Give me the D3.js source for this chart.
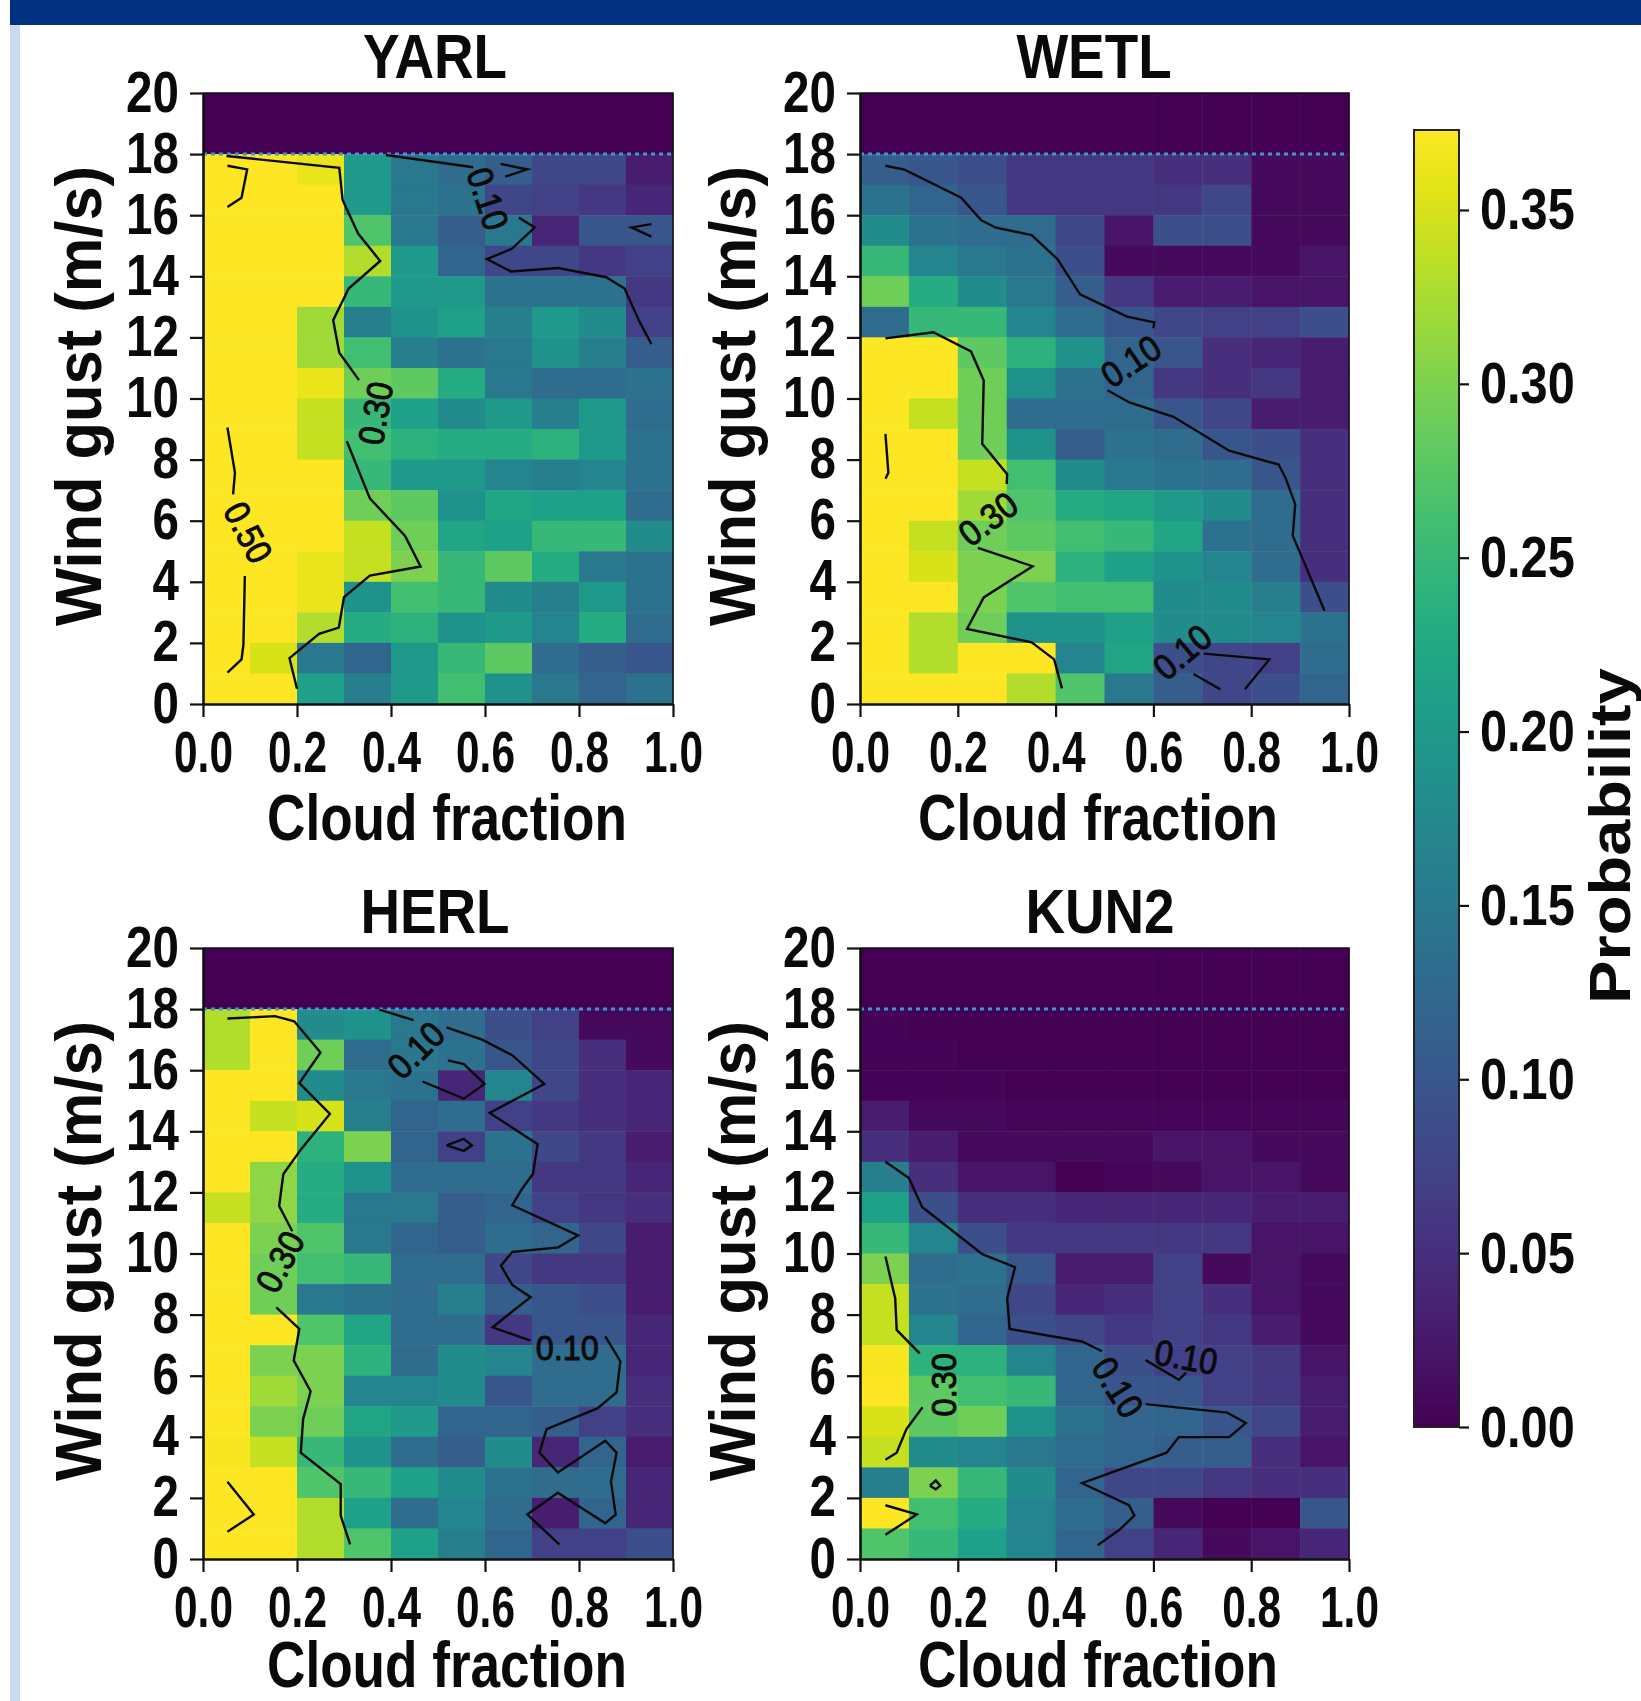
<!DOCTYPE html>
<html>
<head>
<meta charset="utf-8">
<script src="https://cdn.jsdelivr.net/npm/d3@7"></script>
<style>
  html, body { margin: 0; padding: 0; background: #fff; }
  svg { display: block; }
  text { font-family: "Liberation Sans", sans-serif; fill: #0a0a0a; }
</style>
</head>
<body>
<div id="chart"></div>
<script>
// Cell values, top row (19-20 m/s) first, cloud fraction bins left to right
const yarlGrid = [
  [0,0,0,0,0,0,0,0,0,0],
  [0,0,0,0,0,0,0,0,0,0],
  [.40,.40,.36,.20,.15,.13,.11,.08,.08,.03],
  [.40,.40,.40,.20,.15,.14,.08,.07,.06,.04],
  [.40,.40,.40,.27,.15,.11,.15,.04,.10,.10],
  [.40,.40,.40,.33,.20,.12,.08,.08,.06,.07],
  [.40,.40,.40,.25,.20,.20,.14,.14,.14,.06],
  [.40,.40,.32,.16,.19,.21,.16,.20,.18,.07],
  [.40,.40,.32,.26,.16,.14,.15,.19,.16,.11],
  [.40,.40,.36,.29,.28,.23,.15,.13,.13,.14],
  [.40,.40,.34,.25,.21,.18,.20,.16,.20,.13],
  [.40,.40,.34,.26,.24,.23,.23,.24,.20,.14],
  [.40,.40,.38,.25,.20,.20,.17,.16,.17,.14],
  [.40,.40,.38,.29,.28,.19,.22,.21,.21,.13],
  [.40,.40,.38,.34,.29,.22,.21,.25,.25,.18],
  [.40,.40,.36,.34,.30,.25,.28,.23,.15,.14],
  [.40,.40,.36,.19,.26,.25,.18,.16,.20,.14],
  [.40,.40,.33,.23,.24,.19,.20,.17,.23,.13],
  [.38,.35,.15,.12,.20,.25,.28,.13,.11,.10],
  [.38,.38,.21,.16,.20,.26,.19,.15,.12,.14]
];
const wetlGrid = [
  [0,0,0,0,0,0,0,0,0,0],
  [0,0,0,0,0,0,0,0,0,0],
  [.11,.10,.09,.06,.06,.06,.05,.05,.01,.01],
  [.14,.12,.10,.06,.06,.06,.06,.08,.01,.01],
  [.18,.14,.13,.13,.08,.02,.09,.09,.01,.01],
  [.25,.17,.15,.14,.09,.01,.01,.01,.01,.02],
  [.29,.23,.18,.15,.11,.06,.03,.03,.02,.02],
  [.13,.25,.25,.17,.13,.10,.08,.07,.07,.09],
  [.38,.38,.28,.24,.19,.12,.10,.05,.04,.03],
  [.38,.38,.29,.19,.14,.12,.06,.05,.06,.03],
  [.38,.34,.29,.13,.13,.13,.10,.08,.03,.03],
  [.38,.38,.29,.19,.11,.14,.13,.10,.09,.05],
  [.38,.38,.34,.26,.18,.15,.14,.13,.10,.05],
  [.38,.38,.32,.27,.23,.22,.20,.18,.13,.05],
  [.38,.34,.29,.28,.26,.25,.22,.14,.13,.05],
  [.38,.35,.30,.30,.24,.21,.19,.17,.13,.05],
  [.38,.38,.30,.27,.26,.26,.18,.18,.16,.09],
  [.38,.33,.29,.19,.19,.21,.18,.18,.17,.14],
  [.38,.33,.38,.38,.17,.22,.09,.08,.07,.13],
  [.38,.38,.38,.33,.27,.15,.11,.08,.09,.12]
];
const herlGrid = [
  [0,0,0,0,0,0,0,0,0,0],
  [0,0,0,0,0,0,0,0,0,0],
  [.33,.38,.18,.19,.15,.13,.09,.07,.01,.01],
  [.33,.38,.29,.13,.15,.14,.10,.08,.05,.01],
  [.38,.38,.18,.15,.14,.04,.17,.08,.05,.04],
  [.38,.34,.35,.16,.12,.13,.07,.06,.05,.04],
  [.38,.38,.24,.30,.12,.07,.14,.08,.06,.03],
  [.38,.31,.23,.19,.13,.13,.13,.06,.06,.04],
  [.34,.31,.23,.15,.15,.11,.12,.07,.06,.05],
  [.38,.30,.27,.15,.12,.11,.13,.12,.08,.03],
  [.38,.29,.26,.25,.13,.13,.08,.06,.06,.03],
  [.38,.29,.15,.14,.13,.16,.11,.10,.09,.03],
  [.38,.38,.27,.22,.13,.13,.06,.10,.10,.04],
  [.38,.30,.30,.24,.13,.18,.17,.13,.13,.04],
  [.38,.32,.30,.17,.17,.18,.10,.13,.13,.05],
  [.38,.30,.29,.22,.20,.12,.12,.11,.07,.05],
  [.37,.34,.25,.19,.13,.11,.18,.04,.12,.03],
  [.38,.38,.27,.25,.21,.18,.14,.13,.13,.04],
  [.38,.38,.33,.21,.13,.17,.13,.03,.12,.04],
  [.38,.38,.33,.27,.21,.16,.12,.07,.07,.09]
];
const kunGrid = [
  [0,0,0,0,0,0,0,0,0,0],
  [0,0,0,0,0,0,0,0,0,0],
  [.003,0,0,0,0,0,0,0,0,0],
  [.003,.003,0,0,0,0,0,0,0,0],
  [.003,.003,.003,0,0,0,0,0,0,0],
  [.03,.01,.01,.005,.005,.005,.005,.005,.005,.005],
  [.05,.03,.01,.01,.01,.01,.02,.02,.01,.01],
  [.16,.05,.02,.02,.00,.005,.01,.02,.02,.01],
  [.21,.09,.05,.05,.04,.04,.04,.04,.03,.03],
  [.25,.17,.09,.06,.06,.06,.06,.06,.02,.02],
  [.30,.13,.14,.10,.03,.03,.07,.01,.02,.01],
  [.34,.14,.13,.08,.04,.05,.07,.05,.02,.01],
  [.34,.17,.12,.09,.08,.06,.07,.06,.03,.01],
  [.37,.24,.24,.17,.12,.09,.07,.07,.06,.02],
  [.38,.28,.26,.25,.12,.10,.10,.07,.06,.03],
  [.35,.28,.29,.19,.14,.12,.12,.10,.08,.03],
  [.34,.18,.17,.15,.13,.12,.11,.11,.05,.02],
  [.16,.30,.25,.18,.12,.08,.08,.06,.05,.05],
  [.38,.26,.23,.17,.13,.11,.01,.00,.00,.10],
  [.27,.25,.21,.17,.12,.07,.04,.01,.02,.04]
];

// Contour lines as [cloud fraction, wind gust]
const yarlLines = [
  [[.05,17.94],[.29,17.55],[.297,16.5],[.33,15.4],[.377,14.5],[.31,13.6],[.277,12.56],[.29,11.5],[.332,10.6]],
  [[.306,8.6],[.355,6.73],[.43,5.5],[.463,4.5],[.355,4.2],[.30,3.5],[.289,2.5],[.247,2.3],[.184,1.5],[.2,.5]],
  [[.389,17.97],[.575,17.57]],
  [[.672,15.92],[.706,15.6],[.657,14.9],[.604,14.56],[.655,14.16],[.756,14.27],[.858,13.97],[.897,13.6],[.927,12.57],[.954,11.78]],
  [[.633,17.68],[.69,17.5],[.643,17.26]],
  [[.954,15.71],[.912,15.6],[.954,15.3]],
  [[.052,9.05],[.068,7.57],[.064,6.86]],
  [[.089,4.19],[.086,1.94],[.082,1.46],[.052,1.03]],
  [[.052,17.62],[.094,17.5],[.082,16.57],[.052,16.27]]
];
const wetlLines = [
  [[.052,17.62],[.091,17.49],[.207,16.57],[.248,15.83],[.278,15.59],[.351,15.35],[.404,14.56],[.45,13.41],[.546,12.68],[.602,12.49],[.6,12.3]],
  [[.506,10.27],[.551,9.87],[.641,9.4],[.755,8.29],[.856,7.84],[.87,7.41],[.89,6.54],[.885,5.51],[.95,3.05]],
  [[.052,11.97],[.15,12.17],[.227,11.54],[.253,10.59],[.25,8.52],[.301,7.52],[.3,7.2]],
  [[.241,5.11],[.353,4.51],[.253,3.49],[.219,2.46],[.351,2.02],[.397,1.46],[.413,.51]],
  [[.052,8.84],[.058,7.57],[.052,7.37]],
  [[.703,1.65],[.837,1.46],[.787,.48]],
  [[.682,.98],[.737,.48]]
];
const herlLines = [
  [[.052,17.69],[.153,17.77],[.194,17.6],[.25,16.58],[.205,15.58],[.27,14.57],[.208,13.4],[.171,12.6],[.162,11.55],[.19,10.73]],
  [[.156,8.24],[.205,7.53],[.193,6.5],[.229,5.49],[.213,4.58],[.208,3.48],[.293,2.45],[.293,1.42],[.313,.48]],
  [[.052,2.53],[.108,1.46],[.052,.89]],
  [[.375,17.98],[.448,17.64]],
  [[.518,17.4],[.594,17.0],[.658,16.49],[.726,15.55],[.61,14.6],[.712,13.58],[.702,12.6],[.678,12.1],[.658,11.58],[.798,10.59],[.756,10.2],[.658,10.05],[.634,9.6],[.658,8.97],[.697,8.57],[.658,8.1],[.616,7.58],[.697,7.15]],
  [[.856,7.29],[.888,6.47],[.88,5.45],[.839,4.93],[.731,4.25],[.716,3.48],[.755,2.83],[.856,3.87],[.88,3.48],[.868,2.53],[.878,1.46],[.856,1.17],[.755,2.17],[.69,1.46],[.758,.48]],
  [[.521,16.32],[.555,16.2],[.599,15.55],[.555,15.07],[.467,15.63]],
  [[.518,13.54],[.555,13.75],[.572,13.54],[.555,13.36],[.518,13.54]]
];
const kunLines = [
  [[.052,13.0],[.1,12.47],[.127,11.52],[.202,10.58],[.25,9.98],[.317,9.55],[.301,8.53],[.306,7.53],[.454,7.12],[.495,6.8]],
  [[.584,5.07],[.751,4.79],[.789,4.45],[.755,3.99],[.652,3.99],[.627,3.48],[.454,2.48],[.55,1.76],[.561,1.42],[.531,.96],[.486,.45]],
  [[.584,6.51],[.652,5.87],[.667,6.1]],
  [[.052,9.9],[.072,8.53],[.075,7.5],[.122,6.73]],
  [[.128,4.97],[.095,4.25],[.075,3.48],[.052,3.25]],
  [[.052,1.76],[.116,1.46],[.052,.79]],
  [[.143,2.4],[.155,2.57],[.164,2.4],[.155,2.28],[.143,2.4]]
];

// Contour labels: text, cloud fraction, wind gust, text angle
const yarlLabels = [["0.30",.367,9.52,-80],["0.50",.096,5.62,62],["0.10",.606,16.54,72]];
const wetlLabels = [["0.10",.554,11.22,-34],["0.30",.262,6.06,-37],["0.10",.659,1.7,-40]];
const herlLabels = [["0.30",.164,9.73,-62],["0.10",.453,16.66,-45],["0.10",.775,6.93,0]];
const kunLabels = [["0.30",.171,5.7,-90],["0.10",.527,5.62,58],["0.10",.667,6.61,10]];

const xTicks = [0, .2, .4, .6, .8, 1];
const yTicks = [0, 2, 4, 6, 8, 10, 12, 14, 16, 18, 20];
const barTicks = [0, .05, .1, .15, .2, .25, .3, .35];
const maxProb = 0.373;

const width = 1641, height = 1701;
const svg = d3.select('#chart').append('svg')
  .attr('width', width)
  .attr('height', height);

// page furniture of the source figure
svg.append('rect').attr('x', 10).attr('y', 0).attr('width', 10).attr('height', height).attr('fill', '#c9daf1');
svg.append('rect').attr('x', 10).attr('y', 0).attr('width', width - 10).attr('height', 25).attr('fill', '#00307f');

const color = d3.scaleSequential(d3.interpolateViridis).domain([0, maxProb]);

// text squeezed or stretched in x, the source fonts are not normal width
function addText(parent, x, y, str, size, sx, angle, weight, anchor) {
  return parent.append('text')
    .attr('transform', `translate(${x},${y}) rotate(${angle}) scale(${sx},1)`)
    .attr('text-anchor', anchor || 'middle')
    .attr('font-size', size)
    .attr('font-weight', weight || 'bold')
    .text(str);
}

const panels = [
  { name: 'YARL', grid: yarlGrid, lines: yarlLines, labels: yarlLabels, x0: 203, y0: 93, w: 470, titleX: 435, yLabelX: 101, xLabelX: 447, xLabelY: 840 },
  { name: 'WETL', grid: wetlGrid, lines: wetlLines, labels: wetlLabels, x0: 860, y0: 93, w: 489, titleX: 1094, yLabelX: 755, xLabelX: 1098, xLabelY: 840 },
  { name: 'HERL', grid: herlGrid, lines: herlLines, labels: herlLabels, x0: 203, y0: 948, w: 470, titleX: 435, yLabelX: 101, xLabelX: 447, xLabelY: 1687 },
  { name: 'KUN2', grid: kunGrid, lines: kunLines, labels: kunLabels, x0: 860, y0: 948, w: 489, titleX: 1100, yLabelX: 755, xLabelX: 1098, xLabelY: 1687 }
];

panels.forEach(p => {
  const h = 611;
  const g = svg.append('g').attr('transform', `translate(${p.x0},${p.y0})`);
  const x = d3.scaleLinear().domain([0, 1]).range([0, p.w]);
  const y = d3.scaleLinear().domain([0, 20]).range([h, 0]);

  // one rect per cell
  const cells = p.grid.flatMap((row, i) => row.map((v, j) => ({ v, col: j, low: 19 - i })));
  g.selectAll('rect.cell')
    .data(cells)
    .enter()
    .append('rect')
    .attr('class', 'cell')
    .attr('x', d => x(d.col / 10))
    .attr('y', d => y(d.low + 1))
    .attr('width', d => x((d.col + 1) / 10) - x(d.col / 10) + 0.5)
    .attr('height', d => y(d.low) - y(d.low + 1) + 0.5)
    .attr('fill', d => color(d.v));

  // dotted line at the cut-out speed
  g.append('line')
    .attr('x1', 0).attr('x2', p.w)
    .attr('y1', y(18)).attr('y2', y(18))
    .attr('stroke', '#3a9ad0')
    .attr('stroke-width', 3)
    .attr('stroke-dasharray', '4 4');

  const line = d3.line().x(d => x(d[0])).y(d => y(d[1]));
  g.selectAll('path.contour')
    .data(p.lines)
    .enter()
    .append('path')
    .attr('class', 'contour')
    .attr('d', line)
    .attr('fill', 'none')
    .attr('stroke', '#0a0a0a')
    .attr('stroke-width', 2.4);

  p.labels.forEach(l => {
    addText(g, x(l[1]), y(l[2]), l[0], 36, 0.9, l[3], 'normal')
      .attr('dominant-baseline', 'central')
      .attr('stroke', '#0a0a0a')
      .attr('stroke-width', 1);
  });

  // frame, thin on top and right
  g.append('path')
    .attr('d', `M0,0H${p.w}V${h}`)
    .attr('fill', 'none')
    .attr('stroke', '#111')
    .attr('stroke-width', 1.5);

  const xAxis = g.append('g')
    .attr('transform', `translate(0,${h})`)
    .call(d3.axisBottom(x).tickValues(xTicks).tickSize(13).tickSizeOuter(0).tickFormat(d3.format('.1f')));
  const yAxis = g.append('g')
    .call(d3.axisLeft(y).tickValues(yTicks).tickSize(13).tickSizeOuter(0).tickFormat(d3.format('d')));

  [xAxis, yAxis].forEach(a => {
    a.select('.domain').attr('stroke', '#111').attr('stroke-width', 2.6);
    a.selectAll('.tick line').attr('stroke', '#111').attr('stroke-width', 2.2);
    a.selectAll('.tick text').attr('font-family', null).attr('font-size', 58).attr('font-weight', 'bold').attr('fill', null);
  });
  xAxis.selectAll('.tick text')
    .attr('y', null).attr('dy', null).attr('x', null)
    .attr('text-anchor', 'middle')
    .attr('transform', 'translate(0,68) scale(0.73,1)');
  yAxis.selectAll('.tick text')
    .attr('x', null).attr('dy', null)
    .attr('text-anchor', 'end')
    .attr('transform', 'translate(-24,18) scale(0.82,1)');

  addText(svg, p.titleX, p.y0 - 15, p.name, 63, 0.87, 0);
  addText(svg, p.xLabelX, p.xLabelY, 'Cloud fraction', 64, 0.83, 0);
  addText(svg, p.yLabelX, p.y0 + 303, 'Wind gust (m/s)', 64, 0.96, -90);
});

// colorbar
const barX = 1414, barW = 45, barTop = 130, barBottom = 1427;
const barY = d3.scaleLinear().domain([0, maxProb]).range([barBottom, barTop]);
const grad = svg.append('defs').append('linearGradient')
  .attr('id', 'bar-grad')
  .attr('x1', 0).attr('y1', 1).attr('x2', 0).attr('y2', 0);
grad.selectAll('stop')
  .data(d3.range(0, 1.001, 0.05))
  .enter()
  .append('stop')
  .attr('offset', d => d)
  .attr('stop-color', d => d3.interpolateViridis(d));
svg.append('rect')
  .attr('x', barX).attr('y', barTop)
  .attr('width', barW).attr('height', barBottom - barTop)
  .attr('fill', 'url(#bar-grad)')
  .attr('stroke', '#222')
  .attr('stroke-width', 2);
const barAxis = svg.append('g')
  .attr('transform', `translate(${barX + barW},0)`)
  .call(d3.axisRight(barY).tickValues(barTicks).tickSize(10).tickSizeOuter(0).tickFormat(d3.format('.2f')));
barAxis.select('.domain').remove();
barAxis.selectAll('.tick line').attr('stroke', '#111').attr('stroke-width', 2.2);
barAxis.selectAll('.tick text')
  .attr('font-family', null).attr('font-size', 58).attr('font-weight', 'bold').attr('fill', null)
  .attr('x', null).attr('dy', null)
  .attr('text-anchor', 'start')
  .attr('transform', 'translate(21,19) scale(0.84,1)');
addText(svg, 1630, 836, 'Probability', 58, 1.12, -90);
</script>
</body>
</html>
